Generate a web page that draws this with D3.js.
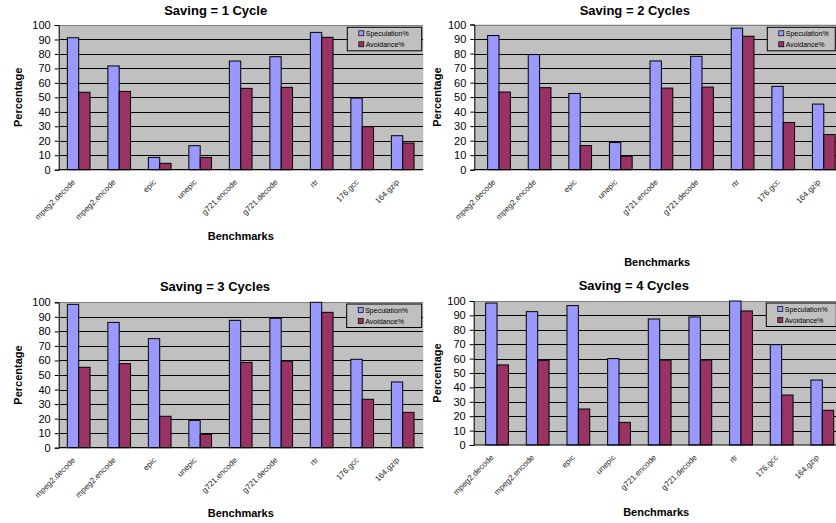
<!DOCTYPE html>
<html>
<head>
<meta charset="utf-8">
<script src="https://cdn.jsdelivr.net/npm/d3@7"></script>
<style>
  html, body { margin: 0; padding: 0; background: #fff; }
  svg { display: block; }
  text { font-family: "Liberation Sans", Arial, sans-serif; }
</style>
</head>
<body>
<svg id="chart" width="836" height="523"></svg>
<script>
// ---------------- DATA ----------------
const categories = ["mpeg2.decode", "mpeg2.encode", "epic", "unepic", "g721.encode", "g721.decode", "rtr", "176.gcc", "164.gzip"];
const seriesNames = ["Speculation%", "Avoidance%"];
const titles = ["Saving = 1 Cycle", "Saving = 2 Cycles", "Saving = 3 Cycles", "Saving = 4 Cycles"];
const yTicks = [0, 10, 20, 30, 40, 50, 60, 70, 80, 90, 100];
const yLabel = "Percentage";
const xLabel = "Benchmarks";

const speculation1 = [91.2, 71.7, 8.5, 16.6, 75.1, 78.1, 94.9, 49.5, 23.5];
const avoidance1   = [53.5, 54.1, 4.4, 8.5, 56.2, 56.9, 91.5, 29.7, 18.4];
const speculation2 = [92.4, 79.3, 52.5, 18.7, 74.9, 78.1, 97.5, 57.4, 45.2];
const avoidance2   = [53.5, 56.5, 16.6, 9.3, 56.2, 56.9, 91.9, 32.5, 24.2];
const speculation3 = [98.6, 86.2, 75.0, 18.8, 87.6, 89.0, 100, 60.8, 45.2];
const avoidance3   = [55.3, 57.8, 21.6, 9.2, 58.7, 59.6, 93.1, 33.3, 24.3];
const speculation4 = [98.6, 92.6, 96.8, 60.0, 87.5, 88.9, 100, 69.7, 45.1];
const avoidance4   = [55.6, 58.8, 25.0, 15.7, 59.0, 59.0, 93.1, 34.7, 24.1];

const panelSeries = [
  [speculation1, avoidance1],
  [speculation2, avoidance2],
  [speculation3, avoidance3],
  [speculation4, avoidance4]
];

// ---------------- LAYOUT ----------------
const colors = ["#9999FF", "#993366"];
const layouts = [
  { plotL: 58.7, plotR: 423.3, bandL: 58.45, step: 40.5, top: 25, bottom: 169.7, titleX: 215.7, titleY: 14.5, yLabX: 18.5, xLabY: 240, legX: 347.3, legY: 27.3, legW: 74.4 },
  { plotL: 474.3, plotR: 850, bandL: 478.7, step: 40.6, top: 24.5, bottom: 169.7, titleX: 634.8, titleY: 14.5, yLabX: 438, xLabY: 266, legX: 767.3, legY: 27.3, legW: 68 },
  { plotL: 58.7, plotR: 423.3, bandL: 58.45, step: 40.5, top: 302.3, bottom: 447.7, titleX: 215, titleY: 291.3, yLabX: 18.5, xLabY: 517, legX: 346.7, legY: 304, legW: 75 },
  { plotL: 473.7, plotR: 850, bandL: 476.7, step: 40.66, top: 301, bottom: 445, titleX: 633.8, titleY: 290.3, yLabX: 438, xLabY: 516, legX: 766.3, legY: 303, legW: 70 }
];

const svg = d3.select("#chart");

panelSeries.forEach((series, pi) => {
  const L = layouts[pi];
  const g = svg.append("g");

  const x = d3.scaleBand()
    .domain(categories)
    .range([L.bandL, L.bandL + L.step * categories.length])
    .paddingInner(0.44)
    .paddingOuter(0.22);
  const xs = d3.scaleBand().domain(seriesNames).range([0, x.bandwidth()]);
  const y = d3.scaleLinear().domain([0, 100]).range([L.bottom, L.top]);

  // plot background
  g.append("rect")
    .attr("x", L.plotL).attr("y", L.top)
    .attr("width", L.plotR - L.plotL).attr("height", L.bottom - L.top)
    .attr("fill", "#C0C0C0");

  // gridlines
  g.append("g")
    .attr("transform", `translate(${L.plotL},0)`)
    .call(d3.axisLeft(y).tickValues(yTicks.filter(v => v > 0)).tickSize(-(L.plotR - L.plotL)).tickFormat(""))
    .call(a => a.select(".domain").remove())
    .call(a => a.selectAll(".tick line")
      .attr("stroke", d => d === 100 ? "#808080" : "#000")
      .attr("shape-rendering", "crispEdges"));

  // bars
  const grp = g.append("g").selectAll("g")
    .data(categories)
    .join("g")
    .attr("transform", d => `translate(${x(d)},0)`);
  grp.selectAll("rect")
    .data((d, i) => seriesNames.map((s, si) => ({ s, v: series[si][i] })))
    .join("rect")
    .attr("x", d => xs(d.s))
    .attr("y", d => y(d.v))
    .attr("width", xs.bandwidth())
    .attr("height", d => y(0) - y(d.v))
    .attr("fill", (d, i) => colors[i])
    .attr("stroke", "#000")
    .attr("stroke-width", 1);

  // y axis
  const ya = g.append("g")
    .attr("transform", `translate(${L.plotL},0)`)
    .call(d3.axisLeft(y).tickValues(yTicks).tickSize(4).tickPadding(4));
  ya.select(".domain").attr("stroke", "#000");
  ya.selectAll(".tick line").attr("stroke", "#000");
  ya.selectAll("text").attr("font-size", "11px").attr("fill", "#000")
    .attr("font-family", "'Liberation Sans', Arial, sans-serif");

  // x axis line
  g.append("line")
    .attr("x1", L.plotL).attr("x2", L.plotR)
    .attr("y1", y(0)).attr("y2", y(0))
    .attr("stroke", "#000").attr("stroke-width", 1.2);

  // x labels
  const xa = g.append("g")
    .attr("transform", `translate(0,${L.bottom})`)
    .call(d3.axisBottom(x).tickSize(0).tickFormat(d => d));
  xa.select(".domain").remove();
  xa.selectAll(".tick text")
    .attr("font-size", "8px")
    .attr("fill", "#222")
    .attr("font-family", "'Liberation Sans', Arial, sans-serif")
    .attr("text-anchor", "end")
    .attr("dy", 0)
    .attr("y", 0)
    .attr("transform", "translate(-3,13) rotate(-45)");

  // title
  g.append("text")
    .attr("x", L.titleX).attr("y", L.titleY)
    .attr("text-anchor", "middle")
    .attr("font-size", "13px").attr("font-weight", "bold")
    .text(titles[pi]);

  // y label
  g.append("text")
    .attr("transform", `translate(${L.yLabX + 3},${(L.top + L.bottom) / 2}) rotate(-90)`)
    .attr("text-anchor", "middle")
    .attr("font-size", "11px").attr("font-weight", "bold")
    .text(yLabel);

  // x label
  g.append("text")
    .attr("x", (L.plotL + Math.min(L.plotR, L.bandL + L.step * categories.length)) / 2 + (pi % 2 ? -2 : 0))
    .attr("y", L.xLabY)
    .attr("text-anchor", "middle")
    .attr("font-size", "11px").attr("font-weight", "bold")
    .text(xLabel);

  // legend
  const lg = g.append("g").attr("transform", `translate(${L.legX},${L.legY})`);
  lg.append("rect")
    .attr("width", L.legW).attr("height", 23.5)
    .attr("fill", "#C0C0C0").attr("stroke", "#000").attr("stroke-width", 1);
  seriesNames.forEach((s, si) => {
    lg.append("rect")
      .attr("x", 11.5).attr("y", 3.5 + si * 11)
      .attr("width", 5).attr("height", 5)
      .attr("fill", colors[si]).attr("stroke", "#000").attr("stroke-width", 0.7);
    lg.append("text")
      .attr("x", 18.5).attr("y", 8.6 + si * 11)
      .attr("font-size", "7px")
      .text(s);
  });
});
</script>
</body>
</html>
